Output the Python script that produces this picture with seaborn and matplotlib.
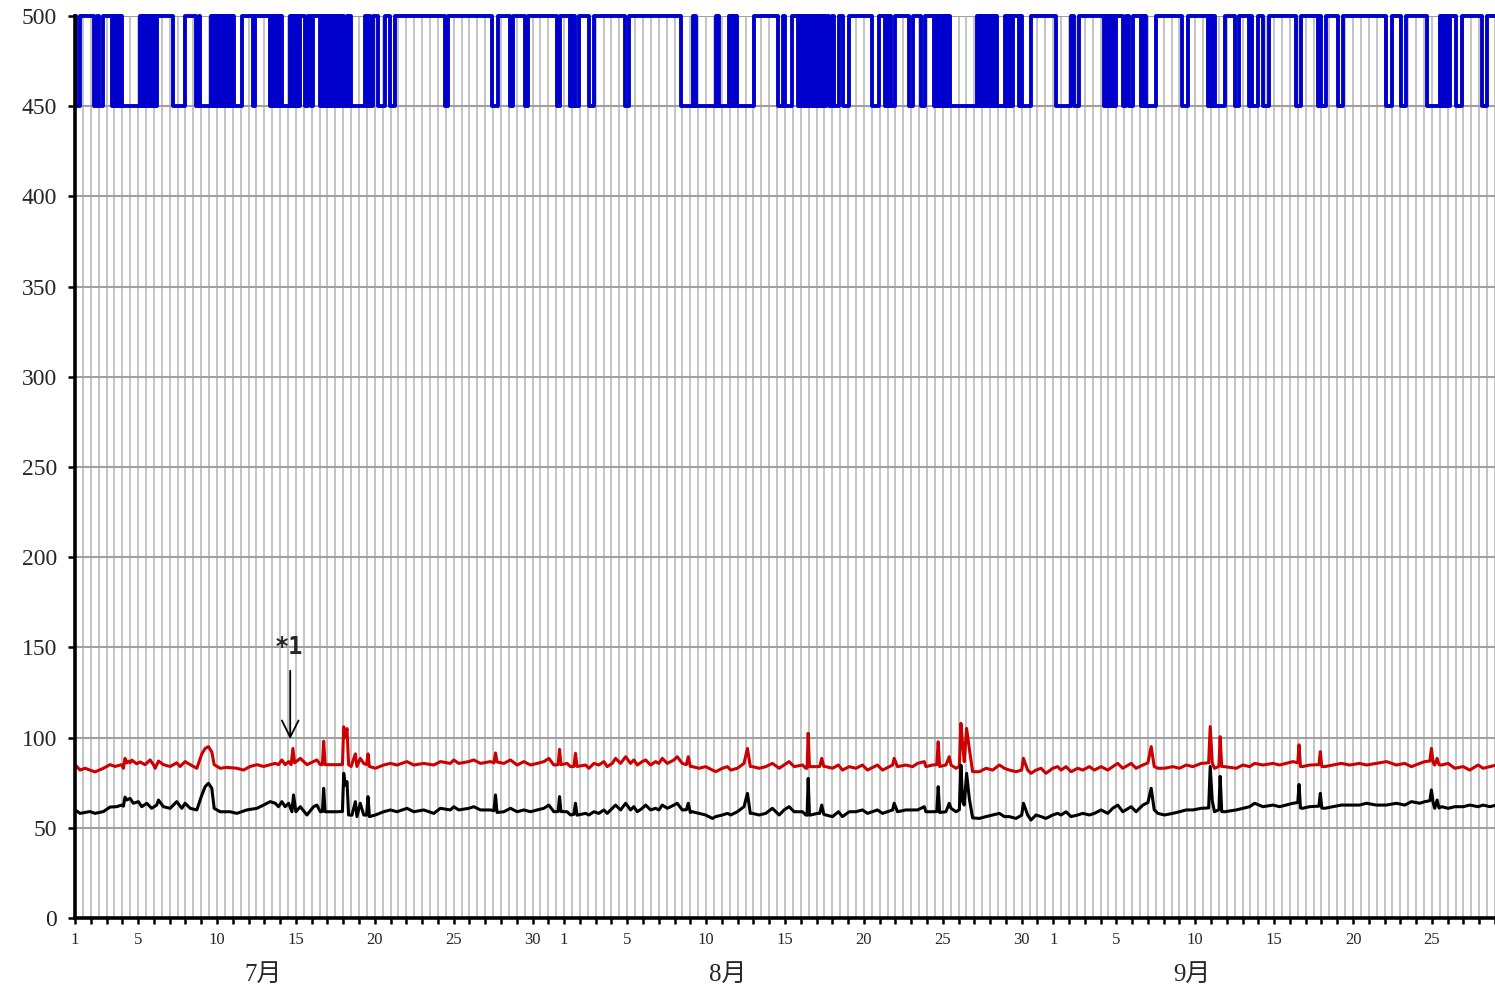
import matplotlib
matplotlib.use("Agg")
import matplotlib.pyplot as plt
from matplotlib.ticker import MultipleLocator
import numpy as np
import pandas as pd
import seaborn as sns

# x axis: days since 1 July (0 = 7/1 00:00)
start = pd.Timestamp("2023-07-01")
n_days = 90
month_names = ["7月", "8月", "9月"]
month_label_day = [11.9, 41.4, 70.8]
labelled_days = [1, 5, 10, 15, 20, 25, 30]

# blue series sits at 500, these are the periods where it drops to 450
blue_low = [
    (0.05, 0.30), (1.21, 1.40), (1.52, 1.78),
    (2.35, 2.43), (2.50, 2.58), (2.65, 2.73), (2.80, 2.88), (2.95, 4.15), (4.22, 4.30),
    (4.37, 4.45), (4.52, 4.60), (4.67, 4.75), (4.82, 4.90), (4.97, 5.05), (5.12, 5.20),
    (6.22, 6.95), (7.68, 7.87),
    (7.93, 8.62), (8.70, 8.78), (8.85, 8.93), (9.00, 9.08), (9.15, 9.23), (9.30, 9.38),
    (9.45, 9.53), (9.60, 9.68), (9.75, 9.83), (9.90, 9.98), (10.05, 10.60),
    (11.29, 11.42),
    (12.37, 12.45), (12.55, 12.63), (12.70, 12.78), (12.85, 12.93), (13.00, 13.08),
    (13.15, 13.65), (13.72, 13.80), (13.87, 13.95), (14.02, 14.10), (14.17, 14.28),
    (14.59, 14.75), (14.95, 15.10),
    (15.55, 15.63), (15.70, 15.78), (15.85, 15.93), (16.00, 16.08), (16.15, 16.23),
    (16.30, 16.38), (16.45, 16.53), (16.60, 16.68), (16.75, 16.83), (16.90, 17.01),
    (17.08, 17.25), (17.32, 17.45), (17.52, 18.40), (18.50, 18.60), (18.70, 18.91),
    (19.23, 19.67), (19.99, 20.30), (23.48, 23.67), (26.46, 26.78), (27.54, 27.79),
    (28.49, 28.68), (30.58, 30.77),
    (31.35, 31.45), (31.52, 31.62), (31.70, 31.92), (32.60, 32.90), (34.84, 35.09),
    (38.39, 39.15), (39.22, 39.30), (39.37, 40.61), (40.68, 40.76), (40.83, 41.45),
    (41.52, 41.60), (41.67, 41.75), (41.82, 41.90), (41.97, 43.02),
    (44.54, 44.86), (44.99, 45.43),
    (45.81, 45.89), (45.96, 46.04), (46.11, 46.19), (46.26, 46.34), (46.41, 46.49),
    (46.56, 46.64), (46.71, 46.79), (46.86, 46.94), (47.01, 47.09), (47.16, 47.24),
    (47.31, 47.39), (47.46, 47.59),
    (47.80, 47.97), (48.10, 48.41), (48.67, 49.05), (50.51, 50.95),
    (51.33, 51.45), (51.52, 51.62), (51.70, 51.97), (52.86, 53.11), (53.62, 53.87),
    (54.44, 54.52), (54.59, 54.67), (54.74, 54.89), (55.01, 55.09), (55.16, 55.24),
    (55.31, 55.39), (55.46, 57.15), (57.22, 57.30), (57.37, 57.45), (57.52, 57.60),
    (57.67, 57.75), (57.82, 57.90), (57.97, 58.05), (58.12, 58.20), (58.27, 58.35),
    (58.42, 58.95), (59.02, 59.10), (59.17, 59.25), (59.32, 59.45),
    (59.83, 59.93), (60.00, 60.60), (62.18, 63.13), (63.32, 63.64),
    (65.23, 65.31), (65.38, 65.46), (65.53, 65.61), (65.68, 65.76), (65.83, 65.99),
    (66.40, 66.62), (66.82, 67.05), (67.58, 67.66), (67.73, 67.81), (67.88, 68.53),
    (70.18, 70.56), (71.83, 71.91), (71.98, 72.06), (72.13, 72.21), (72.28, 72.91),
    (73.54, 73.79), (74.43, 74.55), (74.62, 75.00), (75.32, 75.70), (77.41, 77.73),
    (78.81, 78.92), (78.99, 79.31), (80.08, 80.39), (83.12, 83.50), (84.07, 84.39),
    (85.66, 86.52), (86.59, 86.67), (86.74, 86.82), (86.89, 86.97), (87.04, 87.12),
    (87.50, 87.94), (89.15, 89.47),
]

# red series (day, value)
red_pts = [
    (0, 85), (0.32, 82), (0.63, 83), (1.27, 81), (1.8, 83), (2.22, 85), (2.54, 84),
    (2.96, 85), (3.07, 83), (3.17, 88.5), (3.28, 86), (3.38, 87), (3.49, 86), (3.6, 87.5),
    (3.91, 85.5), (4.12, 86.5), (4.44, 85), (4.76, 87.6), (4.97, 85), (5.08, 83), (5.29, 87),
    (5.6, 85), (6.03, 84), (6.45, 86), (6.66, 84), (6.98, 86.7), (7.3, 85), (7.72, 83),
    (8.04, 91), (8.25, 94), (8.46, 95), (8.67, 92), (8.82, 85), (9.2, 83), (9.62, 83.5),
    (10.26, 83), (10.68, 82), (11.1, 84), (11.53, 85), (11.95, 84), (12.37, 85),
    (12.69, 85.7), (12.9, 85), (13.11, 87.6), (13.32, 85), (13.54, 86.7), (13.7, 85),
    (13.81, 94), (13.92, 86), (14.06, 87), (14.28, 88.5), (14.7, 85), (15.12, 86.7),
    (15.33, 87.6), (15.55, 85), (15.68, 85), (15.76, 98), (15.85, 85), (16.6, 85),
    (16.95, 85), (17.03, 106), (17.13, 100), (17.24, 105), (17.34, 85), (17.5, 84),
    (17.77, 91), (17.87, 84), (18.08, 88.5), (18.3, 85.7), (18.48, 85), (18.57, 91),
    (18.66, 84), (19.04, 83), (19.56, 84.8), (19.99, 85.7), (20.41, 84.8), (21.04, 86.7),
    (21.47, 84.8), (22.1, 85.7), (22.74, 84.8), (23.16, 86.7), (23.79, 85.7), (24.01, 87.6),
    (24.32, 85.7), (24.96, 86.7), (25.27, 87.6), (25.7, 85.7), (26.33, 86.7), (26.55, 86),
    (26.65, 91.5), (26.75, 86.5), (27.18, 85.7), (27.6, 87.6), (28.02, 84.8), (28.45, 86.7),
    (28.87, 84.8), (29.29, 85.7), (29.72, 86.7), (30.03, 88.5),
    (30.35, 84.8), (30.62, 85), (30.71, 93.5), (30.8, 85), (31.19, 85.7), (31.41, 83.9),
    (31.62, 84), (31.72, 91.3), (31.82, 84), (32.36, 84.8), (32.57, 83), (32.89, 85.7),
    (33.2, 84.8), (33.52, 86.7), (33.73, 83.9), (34.05, 85.7), (34.26, 88.5), (34.58, 85.7),
    (34.9, 89.4), (35.21, 85.7), (35.42, 87.6), (35.64, 84.8), (35.95, 86.7), (36.17, 87.6),
    (36.48, 84.8), (36.8, 86.7), (37.01, 85.7), (37.22, 88.5), (37.54, 85.7), (37.96, 87.6),
    (38.17, 89.4), (38.49, 85.7), (38.75, 85), (38.87, 89.4), (39.0, 84), (39.13, 83.9),
    (39.55, 83), (39.97, 83.9), (40.4, 82), (40.61, 81.1), (41.03, 83), (41.35, 83.9),
    (41.56, 82), (41.98, 83), (42.4, 85.7), (42.62, 94), (42.8, 84), (42.93, 83.9),
    (43.36, 83), (43.78, 83.9), (44.2, 85.7), (44.63, 83), (44.94, 84.8), (45.26, 86.7),
    (45.58, 83.9), (46.11, 84.8), (46.32, 83), (46.4, 83), (46.47, 102.4), (46.55, 84),
    (46.63, 83.9), (47.06, 83.9), (47.2, 84), (47.33, 88.5), (47.46, 84), (47.59, 83.9),
    (48.01, 83), (48.39, 84.8), (48.64, 82), (49.07, 83.9), (49.49, 83), (49.91, 84.8),
    (50.23, 82), (50.86, 84.8), (51.18, 82), (51.82, 84.8), (51.92, 88.5), (52.13, 83.9),
    (52.66, 84.8), (53.09, 83.9), (53.4, 85.7), (53.83, 86.7), (53.93, 83.9), (54.35, 84.8),
    (54.62, 85), (54.71, 97.7), (54.8, 84), (55.2, 84.8), (55.41, 89.4), (55.52, 84.8),
    (55.84, 83), (56.05, 84), (56.15, 107.9), (56.26, 96), (56.36, 86.7), (56.51, 105.1),
    (56.68, 94), (56.89, 81.1), (57.32, 81.1), (57.74, 83), (58.16, 82), (58.59, 84.8),
    (58.9, 83), (59.22, 82), (59.64, 81.1),
    (60.0, 82), (60.11, 88.5), (60.38, 82), (60.59, 80.2), (60.91, 82), (61.23, 83),
    (61.54, 80.2), (61.97, 83), (62.28, 83.9), (62.5, 82), (62.81, 83.9), (63.13, 81.1),
    (63.55, 83), (63.87, 82), (64.29, 83.9), (64.61, 82), (65.03, 83.9), (65.46, 82),
    (65.77, 83.9), (66.09, 85.7), (66.41, 83), (66.94, 85.7), (67.25, 83), (67.68, 84.8),
    (68.0, 86), (68.21, 95), (68.4, 84), (68.63, 83), (69.05, 83), (69.58, 83.9), (70.0, 83),
    (70.43, 84.8), (70.85, 83.9), (71.38, 85.7), (71.85, 86), (71.95, 106.1), (72.08, 86),
    (72.22, 83), (72.5, 84), (72.58, 100.5), (72.68, 84), (72.86, 83.9), (73.6, 83),
    (74.02, 84.8), (74.45, 83.9), (74.76, 85.7), (75.29, 84.8), (75.93, 85.7), (76.35, 84.8),
    (77.2, 86.7), (77.5, 86), (77.58, 96), (77.67, 84), (77.79, 83.9), (78.25, 84.8),
    (78.84, 85), (78.93, 92.2), (79.02, 84), (79.2, 83.9), (79.73, 84.8), (80.26, 85.7),
    (80.79, 84.8), (81.42, 85.7), (81.85, 84.8), (82.48, 85.7), (83.12, 86.7), (83.75, 84.8),
    (84.28, 85.7), (84.7, 83.9), (85.23, 85.7), (85.55, 86.7), (85.87, 87), (85.97, 94),
    (86.08, 86), (86.18, 84.8), (86.33, 88.5), (86.45, 85), (86.61, 84.8), (87.03, 85.7),
    (87.45, 83), (87.98, 83.9), (88.4, 82), (88.93, 84.8), (89.25, 83), (89.67, 83.9),
    (90.1, 84.8),
]

# black series (day, value)
black_pts = [
    (0, 60), (0.32, 58), (0.95, 59), (1.27, 58), (1.8, 59), (2.22, 61.5), (2.64, 61.7),
    (2.96, 62.6), (3.07, 62), (3.17, 67), (3.28, 65.4), (3.49, 66.3), (3.7, 63.6),
    (4.02, 64.5), (4.23, 61.7), (4.55, 63.6), (4.86, 60.8), (5.18, 62.6), (5.29, 65.4),
    (5.6, 61.7), (6.03, 60.8), (6.45, 64.5), (6.77, 60.8), (6.98, 63.6), (7.3, 60.8),
    (7.72, 59.9), (8.04, 68.2), (8.25, 72.8), (8.46, 74.7), (8.67, 71.9), (8.82, 60.8),
    (9.2, 58.9), (9.83, 58.9), (10.26, 58), (10.89, 59.9), (11.53, 60.8), (11.95, 62.6),
    (12.37, 64.5), (12.69, 63.6), (12.9, 61.7), (13.11, 64.5), (13.32, 61.7), (13.54, 63.6),
    (13.75, 58.9), (13.85, 68.2), (14.0, 58.9), (14.28, 61.7), (14.7, 57.1), (15.12, 61.7),
    (15.33, 62.6), (15.55, 58.9), (15.68, 59), (15.76, 71.9), (15.85, 58.9), (16.6, 58.9),
    (16.95, 59), (17.03, 80.2), (17.13, 73.7), (17.24, 75.6), (17.34, 57.1), (17.55, 57),
    (17.77, 64.5), (17.87, 56.2), (18.08, 63.6), (18.3, 57.1), (18.48, 57), (18.57, 67.3),
    (18.66, 56.2), (19.04, 57.1), (19.56, 58.9), (19.99, 59.9), (20.41, 58.9), (21.04, 60.8),
    (21.47, 58.9), (22.1, 59.9), (22.74, 58), (23.16, 60.8), (23.79, 59.9), (24.01, 61.7),
    (24.32, 59.9), (24.96, 60.8), (25.27, 61.7), (25.7, 59.9), (26.33, 59.9), (26.55, 59.5),
    (26.65, 68.2), (26.75, 58.5), (27.18, 58.9), (27.6, 60.8), (28.02, 58.9), (28.45, 59.9),
    (28.87, 58.9), (29.29, 59.9), (29.72, 60.8), (30.03, 62.6),
    (30.35, 58.9), (30.62, 59), (30.71, 67.3), (30.8, 59), (31.19, 58.9), (31.41, 57.1),
    (31.62, 57.5), (31.72, 63.6), (31.82, 57), (32.36, 58), (32.57, 57.1), (32.89, 58.9),
    (33.2, 58), (33.52, 59.9), (33.73, 58), (34.05, 60.8), (34.26, 62.6), (34.58, 59.9),
    (34.9, 63.6), (35.21, 59.9), (35.42, 61.7), (35.64, 58.9), (35.95, 60.8), (36.17, 62.6),
    (36.48, 59.9), (36.8, 60.8), (37.01, 59.9), (37.22, 62.6), (37.54, 60.8), (37.96, 62.6),
    (38.17, 63.6), (38.49, 59.9), (38.75, 60), (38.87, 63.6), (39.0, 58.5), (39.13, 58.9),
    (39.55, 58), (39.97, 57.1), (40.4, 55.2), (40.61, 56.2), (41.03, 57.1), (41.35, 58),
    (41.56, 57.1), (41.98, 58.9), (42.4, 61.7), (42.62, 69.1), (42.8, 58), (42.93, 58),
    (43.36, 57.1), (43.78, 58), (44.2, 60.8), (44.63, 57.1), (44.94, 59.9), (45.26, 61.7),
    (45.58, 58.9), (46.11, 58.9), (46.32, 57.1), (46.4, 57), (46.47, 77.4), (46.55, 57),
    (46.63, 57.1), (47.06, 58), (47.2, 58), (47.33, 62.6), (47.46, 57.5), (47.59, 57.1),
    (48.01, 56.2), (48.39, 58.9), (48.64, 56.2), (49.07, 58.9), (49.49, 58.9), (49.91, 59.9),
    (50.23, 58), (50.86, 59.9), (51.18, 58), (51.82, 59.9), (51.92, 63.6), (52.13, 58.9),
    (52.66, 59.9), (53.09, 59.9), (53.4, 59.9), (53.83, 61.7), (53.93, 58.9), (54.35, 58.9),
    (54.62, 59), (54.71, 72.8), (54.8, 58.5), (55.2, 58.9), (55.41, 63.6), (55.52, 60.8),
    (55.84, 58.9), (56.05, 60), (56.15, 84.7), (56.26, 64.5), (56.36, 62.6), (56.51, 80.2),
    (56.68, 66.3), (56.89, 55.5), (57.32, 55.2), (57.74, 56.2), (58.16, 57.1), (58.59, 58),
    (58.9, 56.2), (59.22, 56.2), (59.64, 55.2),
    (60.0, 57), (60.11, 63.6), (60.38, 57.1), (60.59, 54.3), (60.91, 57.1), (61.23, 56.2),
    (61.54, 55.2), (61.97, 57.1), (62.28, 58), (62.5, 57.1), (62.81, 58.9), (63.13, 56.2),
    (63.55, 57.1), (63.87, 58), (64.29, 57.1), (64.61, 58), (65.03, 59.9), (65.46, 58),
    (65.77, 60.8), (66.09, 62.6), (66.41, 58.9), (66.94, 61.7), (67.25, 58.9), (67.68, 62.6),
    (68.0, 64), (68.21, 71.9), (68.4, 60), (68.63, 58), (69.05, 57.1), (69.58, 58),
    (70.0, 58.9), (70.43, 59.9), (70.85, 59.9), (71.38, 60.8), (71.85, 61), (71.95, 84),
    (72.08, 65), (72.22, 58.9), (72.5, 60), (72.58, 78.5), (72.68, 59), (72.86, 58.9),
    (73.6, 59.9), (74.02, 60.8), (74.45, 61.7), (74.76, 63.6), (75.29, 61.7), (75.93, 62.6),
    (76.35, 61.7), (77.2, 63.6), (77.5, 64), (77.58, 74), (77.67, 61), (77.79, 60.8),
    (78.25, 61.7), (78.84, 62), (78.93, 69.1), (79.02, 61), (79.2, 60.8), (79.73, 61.7),
    (80.26, 62.6), (80.79, 62.6), (81.42, 62.6), (81.85, 63.6), (82.48, 62.6), (83.12, 62.6),
    (83.75, 63.6), (84.28, 62.6), (84.7, 64.5), (85.23, 63.6), (85.55, 64.5), (85.87, 65),
    (85.97, 71), (86.08, 64), (86.18, 60.8), (86.33, 65.4), (86.45, 61), (86.61, 61.7),
    (87.03, 60.8), (87.45, 61.7), (87.98, 61.7), (88.4, 62.6), (88.93, 61.7), (89.25, 62.6),
    (89.67, 61.7), (90.1, 62.6),
]

note_day = 13.64
note_text = "*1"
note_top, note_tip = 138.6, 97.6

sns.set_style("white")
plt.rcParams["font.family"] = ["Liberation Serif", "Noto Sans CJK JP"]

red = pd.DataFrame(red_pts, columns=["day", "value"])
black = pd.DataFrame(black_pts, columns=["day", "value"])

bx, by = [0.0], [500]
for s, e in blue_low:
    bx += [s, s, e, e]
    by += [500, 450, 450, 500]
bx.append(n_days)
by.append(500)
blue = pd.DataFrame({"day": bx, "value": by})

fig = plt.figure(figsize=(14.95, 9.91), dpi=100)
ax = fig.add_axes([75 / 1495, 73 / 991, 1420 / 1495, 902 / 991])

sns.lineplot(data=blue, x="day", y="value", color="#0000cc", lw=2.8,
             estimator=None, sort=False, ax=ax, clip_on=False, zorder=3)
sns.lineplot(data=red, x="day", y="value", color="#cc0000", lw=2.2,
             estimator=None, sort=False, ax=ax, zorder=3)
sns.lineplot(data=black, x="day", y="value", color="black", lw=2.2,
             estimator=None, sort=False, ax=ax, zorder=3)

ax.set_xlim(0, n_days)
ax.set_ylim(0, 500)
ax.set_xlabel("")
ax.set_ylabel("")

# day ticks and labels
dates = pd.date_range(start, periods=n_days + 1, freq="D")
ax.set_xticks(np.arange(n_days + 1))
ax.set_xticklabels([str(d.day) if d.day in labelled_days else "" for d in dates])
ax.xaxis.set_minor_locator(MultipleLocator(0.5))
ax.set_yticks(np.arange(0, 501, 50))

ax.set_axisbelow(True)
ax.grid(axis="x", which="both", color="#c4c4c4", lw=1.4)
ax.grid(axis="y", which="major", color="#a0a0a0", lw=1.5)

ax.tick_params(axis="x", which="major", direction="out", length=4, width=1.8,
               labelsize=12, pad=6, bottom=True, color="black")
ax.tick_params(axis="x", which="minor", length=0)
ax.tick_params(axis="y", direction="out", length=5, width=1.8,
               labelsize=17, pad=8, left=True, color="black")

for side in ["top", "right"]:
    ax.spines[side].set_visible(False)
for side in ["left", "bottom"]:
    ax.spines[side].set_linewidth(2.6)
    ax.spines[side].set_color("black")
    ax.spines[side].set_zorder(4)

for name, d in zip(month_names, month_label_day):
    ax.text(d, -0.063, name, transform=ax.get_xaxis_transform(),
            ha="center", va="center", fontsize=18)

ax.annotate("", xy=(note_day, note_tip), xytext=(note_day, note_top),
            arrowprops=dict(arrowstyle="->", color="black", lw=1.3, mutation_scale=30))
ax.text(note_day - 0.1, note_top + 5, note_text, ha="center", va="bottom",
        fontsize=17, fontweight="bold", family=["DejaVu Sans Mono"])

fig.savefig("out.png", dpi=100)
